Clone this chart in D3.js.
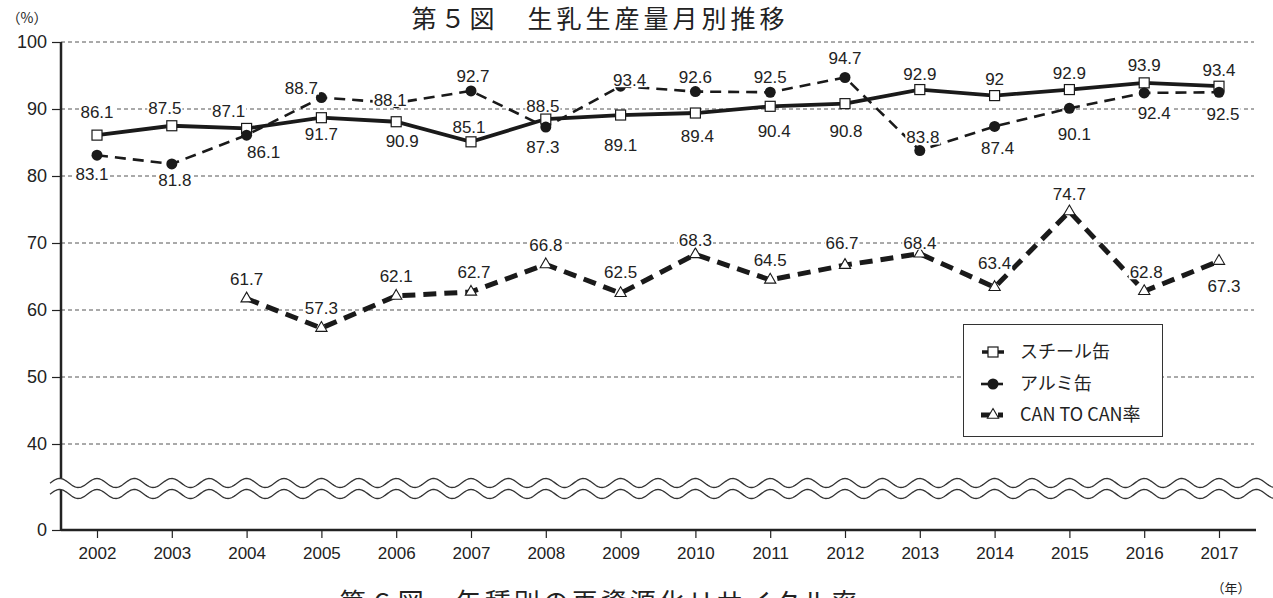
<!DOCTYPE html>
<html>
<head>
<meta charset="utf-8">
<script src="https://cdn.jsdelivr.net/npm/d3@7"></script>
<style>
	body { margin: 0; background: #fff; }
	svg text { font-family: "Liberation Sans", Arial, sans-serif; fill: #222; }
	svg text.jp { font-family: "Noto Sans CJK JP", sans-serif; }
</style>
</head>
<body>
<svg id="chart" width="1273" height="598"></svg>
<script>
	'use strict';
	// chart data
	var years = [2002, 2003, 2004, 2005, 2006, 2007, 2008, 2009, 2010, 2011, 2012, 2013, 2014, 2015, 2016, 2017];
	var steel = [86.1, 87.5, 87.1, 88.7, 88.1, 85.1, 88.5, 89.1, 89.4, 90.4, 90.8, 92.9, 92.0, 92.9, 93.9, 93.4];
	var alum = [83.1, 81.8, 86.1, 91.7, 90.9, 92.7, 87.3, 93.4, 92.6, 92.5, 94.7, 83.8, 87.4, 90.1, 92.4, 92.5];
	var canToCan = [null, null, 61.7, 57.3, 62.1, 62.7, 66.8, 62.5, 68.3, 64.5, 66.7, 68.4, 63.4, 74.7, 62.8, 67.3];
	// value labels as printed in the figure
	var steelLabels = ['86.1', '87.5', '87.1', '91.7', '90.9', '85.1', '88.5', '89.1', '89.4', '90.4', '90.8', '92.9', '92', '92.9', '93.9', '93.4'];
	var alumLabels = ['83.1', '81.8', '86.1', '88.7', '88.1', '92.7', '87.3', '93.4', '92.6', '92.5', '94.7', '83.8', '87.4', '90.1', '92.4', '92.5'];
	var canLabels = [null, null, '61.7', '57.3', '62.1', '62.7', '66.8', '62.5', '68.3', '64.5', '66.7', '68.4', '63.4', '74.7', '62.8', '67.3'];
	var yTicks = [0, 40, 50, 60, 70, 80, 90, 100];
	var seriesNames = ['スチール缶', 'アルミ缶', 'CAN TO CAN率'];

	// label offsets from their point [dx, dy]
	var steelLabelPos = [[0, -23], [-7, -18], [-18, -17], [0, 16], [6, 19], [-2, -15], [-3, -13], [0, 30],
		[2, 23], [4, 25], [1, 27], [0, -16], [0, -17], [0, -17], [0, -18], [0, -16]];
	var alumLabelPos = [[-5, 19], [3, 16], [17, 17], [-20, -10], [-6, -3], [2, -15], [-3, 20], [9, -6],
		[0, -15], [0, -15], [0, -19], [3, -13], [3, 22], [5, 26], [10, 20], [4, 22]];
	var canLabelPos = [null, null, [0, -20], [0, -20], [0, -20], [3, -20], [0, -19], [0, -21],
		[0, -14], [0, -20], [-3, -22], [0, -11], [0, -24], [0, -17], [2, -19], [5, 25]];

	var W = 1273, H = 598;
	var left = 61, right = 1256;
	var svg = d3.select('#chart');

	var x = d3.scalePoint().domain(years).range([97, 1219]);
	var step = x.step();
	// broken axis: 0..40 squeezed, 40..100 linear
	var y = d3.scaleLinear().domain([0, 40, 100]).range([530, 444, 42]);

	// title
	svg.append('text').attr('class', 'jp')
		.attr('x', 600).attr('y', 28)
		.attr('text-anchor', 'middle')
		.style('font-size', '25px').style('letter-spacing', '4px')
		.text('第５図　生乳生産量月別推移');

	svg.append('text').attr('class', 'jp')
		.attr('x', 27).attr('y', 23).attr('text-anchor', 'middle')
		.style('font-size', '14px')
		.text('（%）');

	svg.append('text').attr('class', 'jp')
		.attr('x', 1231).attr('y', 593).attr('text-anchor', 'middle')
		.style('font-size', '13px')
		.text('（年）');

	// next figure's caption, clipped by the page edge
	svg.append('text').attr('class', 'jp')
		.attr('x', 600).attr('y', 612)
		.attr('text-anchor', 'middle')
		.style('font-size', '26px').style('letter-spacing', '3px')
		.text('第６図　缶種別の再資源化リサイクル率');

	// gridlines
	svg.append('g').selectAll('line')
		.data(yTicks.filter(function (t) { return t >= 40; }))
		.join('line')
		.attr('x1', left).attr('x2', right - 2)
		.attr('y1', function (d) { return y(d); })
		.attr('y2', function (d) { return y(d); })
		.attr('stroke', '#555').attr('stroke-width', 1)
		.attr('stroke-dasharray', '4,3');

	// y axis
	var yAxis = svg.append('g')
		.attr('transform', 'translate(' + left + ',0)')
		.call(d3.axisLeft(y).tickValues(yTicks).tickSize(9).tickPadding(5));
	yAxis.select('.domain').attr('d', 'M0,' + y(100) + 'V' + y(0)).attr('stroke', '#222').attr('stroke-width', 2.5);
	yAxis.selectAll('.tick line').attr('stroke', '#222').attr('stroke-width', 1.2);
	yAxis.selectAll('.tick text').style('font-size', '18px').attr('fill', '#222');

	// x axis
	var xAxis = svg.append('g')
		.attr('transform', 'translate(0,' + y(0) + ')')
		.call(d3.axisBottom(x).tickSize(8).tickPadding(9));
	xAxis.select('.domain').attr('d', 'M' + left + ',0H' + right).attr('stroke', '#222').attr('stroke-width', 2.5);
	xAxis.selectAll('.tick line').attr('stroke', '#222').attr('stroke-width', 1.2);
	xAxis.selectAll('.tick text').style('font-size', '17px').attr('fill', '#222');

	// axis break waves
	var waveTop = 483, waveBot = 494, amp = 4.5;
	var xs = d3.range(50, W + 2, 1);
	function waveY(px, base) {
		return base - amp * Math.cos((px - 97) / (step / 2) * 2 * Math.PI);
	}
	var band = xs.map(function (px) { return [px, waveY(px, waveTop)]; })
		.concat(xs.slice().reverse().map(function (px) { return [px, waveY(px, waveBot)]; }));
	svg.append('path')
		.attr('d', d3.line()(band) + 'Z')
		.attr('fill', '#fff');
	[waveTop, waveBot].forEach(function (base) {
		svg.append('path')
			.attr('d', d3.line()(xs.map(function (px) { return [px, waveY(px, base)]; })))
			.attr('fill', 'none').attr('stroke', '#333').attr('stroke-width', 1.3);
	});

	function pts(values) {
		return values.map(function (v, i) { return { year: years[i], v: v, i: i }; })
			.filter(function (d) { return d.v !== null; });
	}

	var line = d3.line()
		.x(function (d) { return x(d.year); })
		.y(function (d) { return y(d.v); });

	var series = [
		{ data: pts(steel), width: 3.8, dash: null, marker: 'square' },
		{ data: pts(alum), width: 2.6, dash: '11,7', marker: 'circle' },
		{ data: pts(canToCan), width: 5, dash: '13,8', marker: 'triangle' }
	];

	var plot = svg.append('g');

	series.forEach(function (s) {
		plot.append('path')
			.datum(s.data)
			.attr('d', line)
			.attr('fill', 'none')
			.attr('stroke', '#1a1a1a')
			.attr('stroke-width', s.width)
			.attr('stroke-dasharray', s.dash);
	});

	function drawMarker(g, type, cx, cy) {
		if (type === 'square') {
			g.append('rect').attr('x', cx - 5).attr('y', cy - 5).attr('width', 10).attr('height', 10)
				.attr('fill', '#fff').attr('stroke', '#1a1a1a').attr('stroke-width', 1.2);
		} else if (type === 'circle') {
			g.append('circle').attr('cx', cx).attr('cy', cy).attr('r', 5.5).attr('fill', '#1a1a1a');
		} else {
			g.append('path').attr('transform', 'translate(' + cx + ',' + cy + ')')
				.attr('d', d3.symbol().type(d3.symbolTriangle).size(55)())
				.attr('fill', '#fff').attr('stroke', '#1a1a1a').attr('stroke-width', 1.1);
		}
	}

	series.forEach(function (s) {
		s.data.forEach(function (d) {
			drawMarker(plot, s.marker, x(d.year), y(d.v));
		});
	});

	// value labels with white background
	var labelSets = [
		{ values: steel, labels: steelLabels, pos: steelLabelPos },
		{ values: alum, labels: alumLabels, pos: alumLabelPos },
		{ values: canToCan, labels: canLabels, pos: canLabelPos }
	];
	var labelLayer = svg.append('g');
	labelSets.forEach(function (set) {
		set.values.forEach(function (v, i) {
			if (v === null || set.labels[i] === null) return;
			var lx = x(years[i]) + set.pos[i][0];
			var ly = y(v) + set.pos[i][1];
			var g = labelLayer.append('g');
			var bg = g.append('rect').attr('fill', '#fff');
			var t = g.append('text')
				.attr('x', lx).attr('y', ly)
				.attr('text-anchor', 'middle')
				.attr('dy', '0.35em')
				.style('font-size', '17px')
				.text(set.labels[i]);
			var bb = t.node().getBBox();
			bg.attr('x', bb.x - 1).attr('y', ly - 7).attr('width', bb.width + 2).attr('height', 14);
		});
	});

	// legend
	var lg = svg.append('g');
	lg.append('rect')
		.attr('x', 963.5).attr('y', 324.5).attr('width', 199).attr('height', 112)
		.attr('fill', '#fff').attr('stroke', '#333').attr('stroke-width', 1);
	var rows = [352, 384, 415];
	seriesNames.forEach(function (name, i) {
		var ry = rows[i];
		var s = series[i];
		if (s.marker === 'square') {
			lg.append('line').attr('x1', 982).attr('x2', 1004).attr('y1', ry).attr('y2', ry)
				.attr('stroke', '#1a1a1a').attr('stroke-width', 3.5);
		} else {
			lg.append('line').attr('x1', 981).attr('x2', 990).attr('y1', ry).attr('y2', ry)
				.attr('stroke', '#1a1a1a').attr('stroke-width', s.width);
			lg.append('line').attr('x1', 998).attr('x2', 1003).attr('y1', ry).attr('y2', ry)
				.attr('stroke', '#1a1a1a').attr('stroke-width', s.width);
		}
		drawMarker(lg, s.marker, 993, ry);
		lg.append('text').attr('class', 'jp')
			.attr('x', 1020).attr('y', ry).attr('dy', '0.35em')
			.style('font-size', '18px')
			.text(name);
	});
</script>
</body>
</html>
